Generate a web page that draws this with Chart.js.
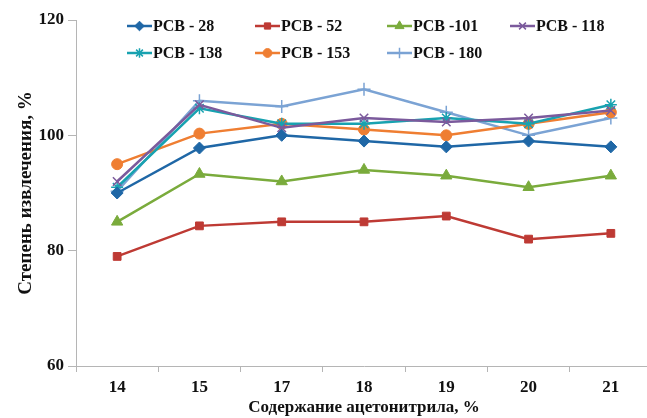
<!DOCTYPE html>
<html>
<head>
<meta charset="utf-8">
<script src="https://cdn.jsdelivr.net/npm/chart.js@4"></script>
<style>
  html, body { margin: 0; padding: 0; background: #fff; overflow: hidden; }
  /* the plot runs a little past the right edge in the original */
  #clip { width: 647px; height: 418px; overflow: hidden; }
  canvas { display: block; }
</style>
</head>
<body>
<div id="clip"><canvas id="recoveryChart" width="660" height="418"></canvas></div>
<script>
// Содержание ацетонитрила, %
const categories = ['14', '15', '17', '18', '19', '20', '21'];

// Степень извлечения, % for each congener
const pcb28  = [90, 97.8, 100, 99, 98, 99, 98];
const pcb52  = [79, 84.3, 85, 85, 86, 82, 83];
const pcb101 = [85, 93.3, 92, 94, 93, 91, 93];
const pcb118 = [92, 105.3, 101.3, 103, 102.3, 103, 104.3];
const pcb138 = [91, 104.7, 102, 102, 103, 102, 105.3];
const pcb153 = [95, 100.3, 102, 101, 100, 102, 104];
const pcb180 = [90.3, 106, 105, 108, 104, 100, 103];

const yTicks = [60, 80, 100, 120];

const serif = "'Liberation Serif', 'DejaVu Serif', serif";

function series(label, data, color, style, radius) {
    const thin = style === 'crossRot' || style === 'star' || style === 'cross';
    return {
        label: label,
        data: data,
        borderColor: color,
        backgroundColor: color,
        borderWidth: 2.5,
        pointStyle: style,
        pointRadius: radius,
        pointBorderWidth: thin ? 1.5 : 1,
        pointBorderColor: color,
        pointBackgroundColor: color,
        tension: 0
    };
}

const datasets = [
    series('PCB - 28',  pcb28,  '#1f67a6', 'rectRot', 6),
    series('PCB - 52',  pcb52,  '#be3a34', 'rect', 5.5),
    series('PCB -101',  pcb101, '#7aab3c', 'triangle', 6.5),
    series('PCB - 118', pcb118, '#7b5a9c', 'crossRot', 6),
    series('PCB - 138', pcb138, '#18a2b0', 'star', 6),
    series('PCB - 153', pcb153, '#ef7e32', 'circle', 5.5),
    series('PCB - 180', pcb180, '#7ba3d4', 'cross', 6.5)
];

// legend sits inside the plot area, two rows, line with marker
const insideLegend = {
    id: 'insideLegend',
    afterDatasetsDraw(chart) {
        const c = chart.ctx;
        const colX = [127, 255, 387, 510];
        const rowY = [26, 53];
        c.save();
        chart.data.datasets.forEach(function (ds, i) {
            const x = colX[i % 4];
            const y = rowY[Math.floor(i / 4)];
            c.strokeStyle = ds.borderColor;
            c.fillStyle = ds.backgroundColor;
            c.lineWidth = 2.5;
            c.beginPath();
            c.moveTo(x, y);
            c.lineTo(x + 25, y);
            c.stroke();
            c.lineWidth = ds.pointBorderWidth;
            Chart.helpers.drawPoint(c, {
                pointStyle: ds.pointStyle,
                radius: ds.pointRadius * 0.8,
                borderWidth: ds.pointBorderWidth
            }, x + 12.5, y);
            c.fillStyle = '#111';
            c.font = 'bold 16px ' + serif;
            c.textBaseline = 'middle';
            c.textAlign = 'left';
            c.fillText(ds.label, x + 26, y + 1);
        });
        c.restore();
    }
};

const ctx = document.getElementById('recoveryChart').getContext('2d');

new Chart(ctx, {
    type: 'line',
    data: { labels: categories, datasets: datasets },
    options: {
        responsive: false,
        animation: false,
        layout: { padding: { top: 20, right: 0, left: 0, bottom: 0 } },
        plugins: {
            legend: { display: false },
            tooltip: { enabled: false }
        },
        scales: {
            x: {
                offset: true,
                grid: {
                    display: true,
                    offset: true,
                    drawOnChartArea: false,
                    drawTicks: true,
                    tickLength: 6,
                    color: '#b5b5b5'
                },
                border: { color: '#b5b5b5', width: 1 },
                ticks: {
                    color: '#111',
                    padding: 5,
                    font: { family: serif, size: 17, weight: 'bold' }
                },
                title: {
                    display: true,
                    text: 'Содержание ацетонитрила, %',
                    color: '#111',
                    padding: { top: 0, bottom: 0 },
                    font: { family: serif, size: 17, weight: 'bold' }
                },
                afterFit(scale) { scale.height = 52; }
            },
            y: {
                min: 60,
                max: 120,
                afterBuildTicks(scale) {
                    scale.ticks = yTicks.map(function (v) { return { value: v }; });
                },
                grid: {
                    display: true,
                    drawOnChartArea: false,
                    drawTicks: true,
                    tickLength: 8,
                    color: '#b5b5b5'
                },
                border: { color: '#b5b5b5', width: 1 },
                ticks: {
                    color: '#111',
                    padding: 4,
                    font: { family: serif, size: 17, weight: 'bold' }
                },
                title: {
                    display: true,
                    text: 'Степень извлечения, %',
                    color: '#111',
                    padding: { top: 15, bottom: 0 },
                    font: { family: serif, size: 19, weight: 'bold' }
                },
                afterFit(scale) { scale.width = 76; }
            }
        }
    },
    plugins: [insideLegend]
});
</script>
</body>
</html>
